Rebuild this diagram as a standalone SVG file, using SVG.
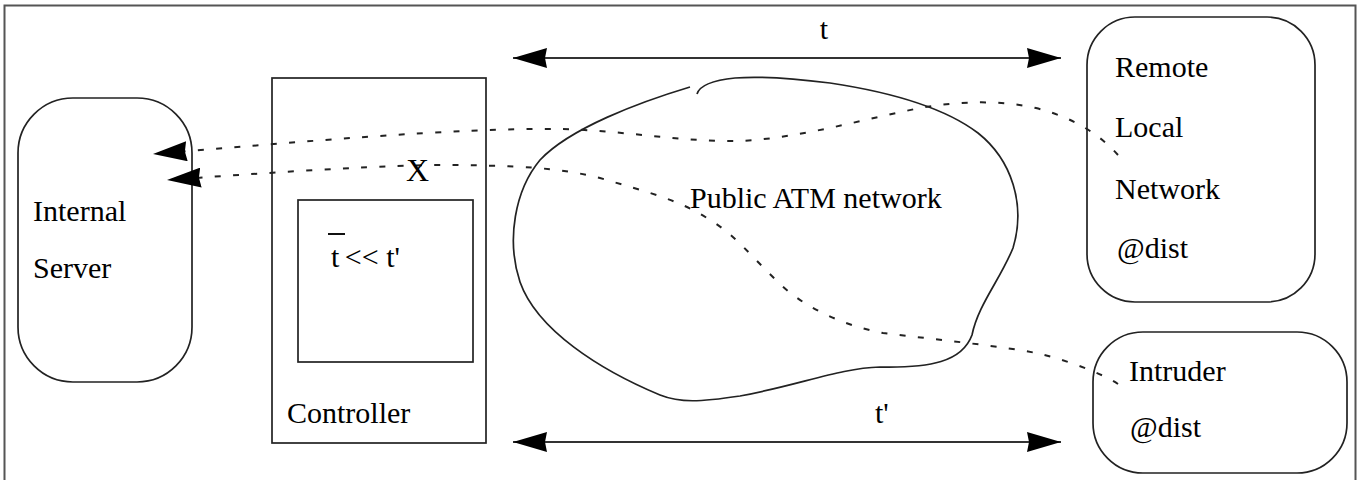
<svg xmlns="http://www.w3.org/2000/svg" width="1361" height="480" viewBox="0 0 1361 480">
<style>
.lbl{font-family:"Liberation Serif","Times New Roman",serif;font-size:30px;fill:#000}
.box{fill:none;stroke:#222;stroke-width:1.7}
.dash{fill:none;stroke:#222;stroke-width:2;stroke-dasharray:6 12.3}
.dim{fill:none;stroke:#333;stroke-width:2.2}
</style>
<defs>
<marker id="ah" viewBox="0 0 34 20" refX="34" refY="10" markerWidth="34" markerHeight="20" markerUnits="userSpaceOnUse" orient="auto-start-reverse">
<path d="M0,0 L34,10 L0,20 L2,10 z" fill="#000" stroke="none"/>
</marker>
</defs>
<rect x="4.5" y="5.5" width="1351" height="490" fill="#fff" stroke="#555" stroke-width="2"/>
<g id="internal-server">
<rect class="box" x="18" y="98" width="174" height="284" rx="55" ry="55"/>
<text class="lbl" x="33" y="221">Internal</text>
<text class="lbl" x="33" y="278">Server</text>
</g>
<g id="controller">
<rect class="box" x="272" y="78" width="214" height="365"/>
<rect class="box" x="298" y="200" width="175" height="162"/>
<line x1="328" y1="234" x2="345" y2="234" stroke="#111" stroke-width="2"/>
<text class="lbl" x="331" y="267">t <tspan dx="-2">&lt;&lt; t'</tspan></text>
<text class="lbl" x="287" y="423">Controller</text>
</g>
<g id="public-atm-network">
<path class="box" d="M 690 87 C 640 102, 570 128, 540 160 C 515 190, 506 240, 520 282 C 537 330, 600 370, 660 395 C 680 403, 700 402, 740 396 C 800 385, 840 368, 880 367 C 930 368, 962 362, 972 335 C 978 305, 1000 280, 1013 248 C 1026 205, 1012 160, 978 133 C 945 108, 890 92, 830 83 C 790 78, 760 76, 735 78 C 715 80, 700 84, 697 94"/>
<text class="lbl" x="690" y="208">Public ATM network</text>
</g>
<g id="remote-local-network">
<rect class="box" x="1087" y="17" width="228" height="285" rx="48" ry="48"/>
<text class="lbl" x="1115" y="77">Remote</text>
<text class="lbl" x="1115" y="137">Local</text>
<text class="lbl" x="1115" y="199">Network</text>
<text class="lbl" x="1117" y="258">@dist</text>
</g>
<g id="intruder">
<rect class="box" x="1093" y="332" width="254" height="141" rx="50" ry="50"/>
<text class="lbl" x="1129" y="381">Intruder</text>
<text class="lbl" x="1130" y="437">@dist</text>
</g>
<g id="connectors">
<line class="dim" x1="513" y1="58" x2="1061" y2="58" marker-start="url(#ah)" marker-end="url(#ah)"/>
<line class="dim" x1="513" y1="442" x2="1061" y2="442" marker-start="url(#ah)" marker-end="url(#ah)"/>
<path class="dash" d="M 1118 155 C 1100 135, 1075 118, 1036 108 C 1000 100, 960 101, 920 108 C 860 120, 800 138, 740 141 C 680 142, 620 130, 560 129 C 450 128, 300 142, 153 154" marker-end="url(#ah)"/>
<path class="dash" d="M 1118 384 C 1100 372, 1060 358, 1036 353 C 1000 346, 940 340, 883 333 C 840 325, 800 305, 776 280 C 750 255, 735 235, 710 220 C 680 200, 650 193, 600 178 C 560 168, 520 165, 430 165 C 350 167, 250 174, 167 180" marker-end="url(#ah)"/>
</g>
<text class="lbl" x="824" y="39" text-anchor="middle">t</text>
<text class="lbl" x="875" y="423">t'</text>
<text class="lbl" x="406" y="181" style="font-size:32px">X</text>
</svg>
